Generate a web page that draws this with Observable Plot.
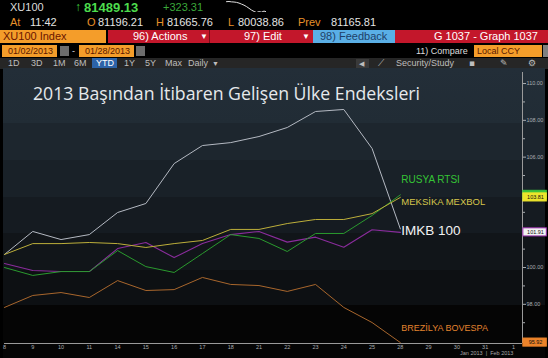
<!DOCTYPE html>
<html><head><meta charset="utf-8">
<script src="https://cdn.jsdelivr.net/npm/d3@7"></script>
<script src="https://cdn.jsdelivr.net/npm/@observablehq/plot@0.6"></script>
<style>
html,body{margin:0;padding:0;background:#000;}
#root{position:relative;width:548px;height:358px;overflow:hidden;background:#000;font-family:"Liberation Sans",Arial,sans-serif;}
.a{position:absolute;white-space:nowrap;line-height:1;}
.b{position:absolute;}
.or{color:#e8912a;}
.wh{color:#e4e4e4;}
.r1{top:2px;}
.r2{top:17px;font-size:11px;}
.r3{top:31px;font-size:11px;color:#fff;}
.r4{top:47px;font-size:9px;}
.r5{top:59px;font-size:9px;color:#bdbdbd;}
#chartbg{position:absolute;left:3px;top:68px;width:542px;height:290px;
background:linear-gradient(to bottom,#232e38 0px,#212c35 55px,#1d262e 55px,#1d262e 92px,#192128 92px,#192128 129px,#151b21 129px,#151b21 165px,#111519 165px,#111519 202px,#0d1013 202px,#0d1013 237px,#050505 237px,#050505 290px);}
#chart{position:absolute;left:0;top:68px;}
#title{position:absolute;left:33px;top:85px;font-family:"Open Sans",sans-serif;font-size:17.7px;line-height:1;color:#e6e9ec;white-space:nowrap;}
</style></head>
<body><div id="root">
  <!-- row 1 -->
  <span class="a r1" style="left:10px;font-size:11px;color:#dcdcdc">XU100</span>
  <span class="a" style="left:75px;top:1px;font-size:12px;color:#3fcf3f">↑</span>
  <span class="a" style="left:84px;top:1px;font-size:13px;font-weight:bold;color:#4ddc4d">81489.13</span>
  <span class="a r1" style="left:163px;font-size:11px;color:#3aa83a">+323.31</span>
  <div id="spark" class="b" style="left:226px;top:1px;"></div>
  <!-- row 2 -->
  <span class="a r2 or" style="left:10px">At</span><span class="a r2 wh" style="left:30px">11:42</span>
  <span class="a r2 or" style="left:87px">O</span><span class="a r2 wh" style="left:98px">81196.21</span>
  <span class="a r2 or" style="left:156px">H</span><span class="a r2 wh" style="left:167px">81665.76</span>
  <span class="a r2 or" style="left:228px">L</span><span class="a r2 wh" style="left:238px">80038.86</span>
  <span class="a r2 or" style="left:298px">Prev</span><span class="a r2 wh" style="left:331px">81165.81</span>
  <!-- row 3 -->
  <div class="b" style="left:0;top:30px;width:106px;height:13px;background:#f49d2a"></div>
  <div class="b" style="left:108px;top:30px;width:440px;height:13px;background:#c3172b"></div>
  <div class="b" style="left:209px;top:30px;width:1px;height:13px;background:#7a0d18"></div>
  <div class="b" style="left:313px;top:30px;width:82px;height:13px;background:#5aafe6"></div>
  <span class="a r3" style="left:3px;color:#6a1500">XU100 Index</span>
  <span class="a r3" style="left:133px">96) Actions</span><span class="a r3" style="left:200px;font-size:8px;top:33px">▼</span>
  <span class="a r3" style="left:244px">97) Edit</span><span class="a r3" style="left:302px;font-size:8px;top:33px">▼</span>
  <span class="a r3" style="left:320px;color:#1f3f68">98) Feedback</span>
  <span class="a r3" style="left:434px">G 1037 - Graph 1037</span>
  <!-- row 4 -->
  <div class="b" style="left:2px;top:45px;width:55px;height:12px;background:#f49d2a"></div>
  <div class="b" style="left:60px;top:46px;width:9px;height:10px;background:#6d6d6d"></div>
  <div class="b" style="left:79px;top:45px;width:55px;height:12px;background:#f49d2a"></div>
  <div class="b" style="left:136px;top:46px;width:9px;height:10px;background:#6d6d6d"></div>
  <div class="b" style="left:474px;top:45px;width:68px;height:12px;background:#f49d2a"></div>
  <div class="b" style="left:543px;top:45px;width:5px;height:12px;background:#808080"></div>
  <span class="a r4" style="left:8px;color:#5a1800">01/02/2013</span>
  <span class="a r4" style="left:72px;color:#ddd">-</span>
  <span class="a r4" style="left:85px;color:#5a1800">01/28/2013</span>
  <span class="a r4" style="left:416px;color:#ddd">11) Compare</span>
  <span class="a r4" style="left:477px;color:#5a1800">Local CCY</span>
  <!-- row 5 -->
  <div class="b" style="left:0;top:58px;width:548px;height:11px;background:#262626"></div>
  <div class="b" style="left:92px;top:58px;width:25px;height:11px;background:#2c63a8"></div>
  <div class="b" style="left:356px;top:59px;width:13px;height:9px;background:#3a3a3a"></div>
  <span class="a r5" style="left:8px">1D</span>
  <span class="a r5" style="left:31px">3D</span>
  <span class="a r5" style="left:53px">1M</span>
  <span class="a r5" style="left:74px">6M</span>
  <span class="a r5" style="left:96px;color:#fff">YTD</span>
  <span class="a r5" style="left:124px">1Y</span>
  <span class="a r5" style="left:145px">5Y</span>
  <span class="a r5" style="left:165px">Max</span>
  <span class="a r5" style="left:188px">Daily</span><span class="a r5" style="left:212px;font-size:7px;top:60px">▼</span>
  <span class="a r5" style="left:359px;font-size:7px;top:60px">◀</span>
  <span class="a r5" style="left:378px;font-family:'DejaVu Sans'">⟋</span>
  <span class="a r5" style="left:396px">Security/Study</span>
  <span class="a r5" style="left:469px;font-family:'DejaVu Sans'">▪</span>
  <span class="a r5" style="left:500px;font-family:'DejaVu Sans'">✎</span>
  <span class="a r5" style="left:528px;font-family:'DejaVu Sans'">⚙</span>

  <div id="chartbg"></div>
  <div id="title">2013 Başından İtibaren Gelişen Ülke Endeksleri</div>
  <div id="chart"></div>
  <span class="a" style="left:460px;top:351px;font-size:5.5px;color:#a8a8a8">Jan 2013 &nbsp;|&nbsp; Feb 2013</span>
</div>
<script>
// trading days shown on the x axis (January 2013 → 1 Feb)
const days = ["8","9","10","11","14","15","16","17","18","21","22","23","24","25","28","29","30","31","1"];
// indexed series (8 → 28 Jan)
const imkb    = [100.71,101.96,101.52,101.79,102.99,103.48,105.65,106.63,106.79,107.12,107.61,108.48,108.59,106.47,102.10];
const mexbol  = [100.71,101.30,101.30,101.36,101.30,101.09,101.30,101.47,102.07,102.07,102.39,102.61,102.61,102.93,103.81];
const rtsi    = [100.00, 99.57, 99.78, 99.78,100.92,100.05, 99.73,100.76,101.79,101.58,100.87,101.85,101.85,102.83,103.95];
const other   = [100.22, 99.84, 99.78, 99.78,101.03,101.36,100.54,101.30,101.79,101.96,101.38,101.65,101.10,102.05,101.91];
const bovespa = [ 97.83, 98.48, 98.64, 98.37, 99.29, 98.75, 98.80, 99.46, 99.08, 99.02, 98.70, 99.08, 97.83, 97.01, 95.92];
const yTicks = [98,100,106,108,110];   // 102.00 and 104.00 sit under the last-value tags
const yMinor = [97,99,101,102,103,104,105,107,109];
const spark = [9.0,9.1,8.9,8.8,8.6,8.2,7.6,7.0,6.2,5.2,4.2,3.4,2.8,3.3,3.0,3.6,3.2];

const xEnd = 18.32, yLo = 95.87, yHi = 110.6;
const rows = a => a.map((v, i) => ({i, v}));
const last = a => a[a.length - 1];
const lastI = imkb.length - 1;

// last-value tags on the right axis (the RTSI tag sits mostly behind the MEXBOL one)
const tags = [
  {v: last(rtsi), fill: "#3cc43c", stroke: "#3cc43c", label: false},
  {v: last(mexbol), fill: "#ece52c", stroke: "#ece52c", label: true},
  {v: last(other), fill: "#f2f2f2", stroke: "#9a2fae", label: true},
  {v: last(bovespa), fill: "#ec832a", stroke: "#ec832a", label: true}
];

const lab = (arr, txt, color, size, dy) => Plot.text([last(arr)], {
  x: lastI, y: d => d, text: [txt], fill: color, fontSize: size, dx: 1, dy,
  textAnchor: "start", fontFamily: "Liberation Sans, Arial, sans-serif"
});

const chart = Plot.plot({
  width: 548, height: 290,
  marginLeft: 4, marginRight: 26, marginTop: 4, marginBottom: 15,
  x: {domain: [0, xEnd], axis: null},
  y: {domain: [yLo, yHi], axis: null},
  style: {background: "transparent", color: "#a9adb2", fontFamily: "Liberation Sans, Arial, sans-serif", overflow: "visible"},
  marks: [
    Plot.axisX({ticks: d3.range(days.length), tickFormat: i => days[i], tickSize: 1, tickPadding: 0.5, fontSize: 5.5, label: null}),
    Plot.axisY({anchor: "right", ticks: yTicks, tickFormat: d => d.toFixed(2), tickSize: 3, tickPadding: 1, fontSize: 5.5, label: null}),
    Plot.axisY({anchor: "right", ticks: yMinor, tickFormat: () => "", tickSize: 2, label: null}),
    Plot.ruleY([yLo], {stroke: "#9a9a9a"}),
    Plot.ruleX([xEnd], {stroke: "#9a9a9a"}),
    Plot.line(rows(bovespa), {x: "i", y: "v", stroke: "#a8662c", strokeWidth: 1}),
    Plot.line(rows(imkb), {x: "i", y: "v", stroke: "#b4b9c2", strokeWidth: 1}),
    Plot.line(rows(other), {x: "i", y: "v", stroke: "#8a2c9c", strokeWidth: 1.1}),
    Plot.line(rows(rtsi), {x: "i", y: "v", stroke: "#2a9a2e", strokeWidth: 1}),
    Plot.line(rows(mexbol), {x: "i", y: "v", stroke: "#bcae3a", strokeWidth: 1}),
    Plot.rect(tags, {x1: () => xEnd + 0.03, x2: () => xEnd + 0.86, y1: d => d.v - 0.22, y2: d => d.v + 0.22, fill: "fill", stroke: "stroke"}),
    Plot.text(tags.filter(d => d.label), {x: () => xEnd + 0.46, y: "v", text: d => d.v.toFixed(2), fill: "#111", fontSize: 5.5}),
    lab(rtsi, "RUSYA RTSI", "#35c335", 10, -15),
    lab(mexbol, "MEKSİKA MEXBOL", "#d6c64c", 9.5, 5),
    lab(imkb, "IMKB 100", "#f2f2f2", 13.5, 2),
    lab(bovespa, "BREZİLYA BOVESPA", "#e3832e", 9, -14)
  ]
});
document.getElementById("chart").appendChild(chart);

const sp = Plot.plot({
  width: 40, height: 11, margin: 0,
  x: {axis: null}, y: {axis: null},
  style: {background: "transparent"},
  marks: [Plot.line(rows(spark), {x: "i", y: "v", stroke: "#e0e0e0", strokeWidth: 1})]
});
document.getElementById("spark").appendChild(sp);
</script>
</body></html>
